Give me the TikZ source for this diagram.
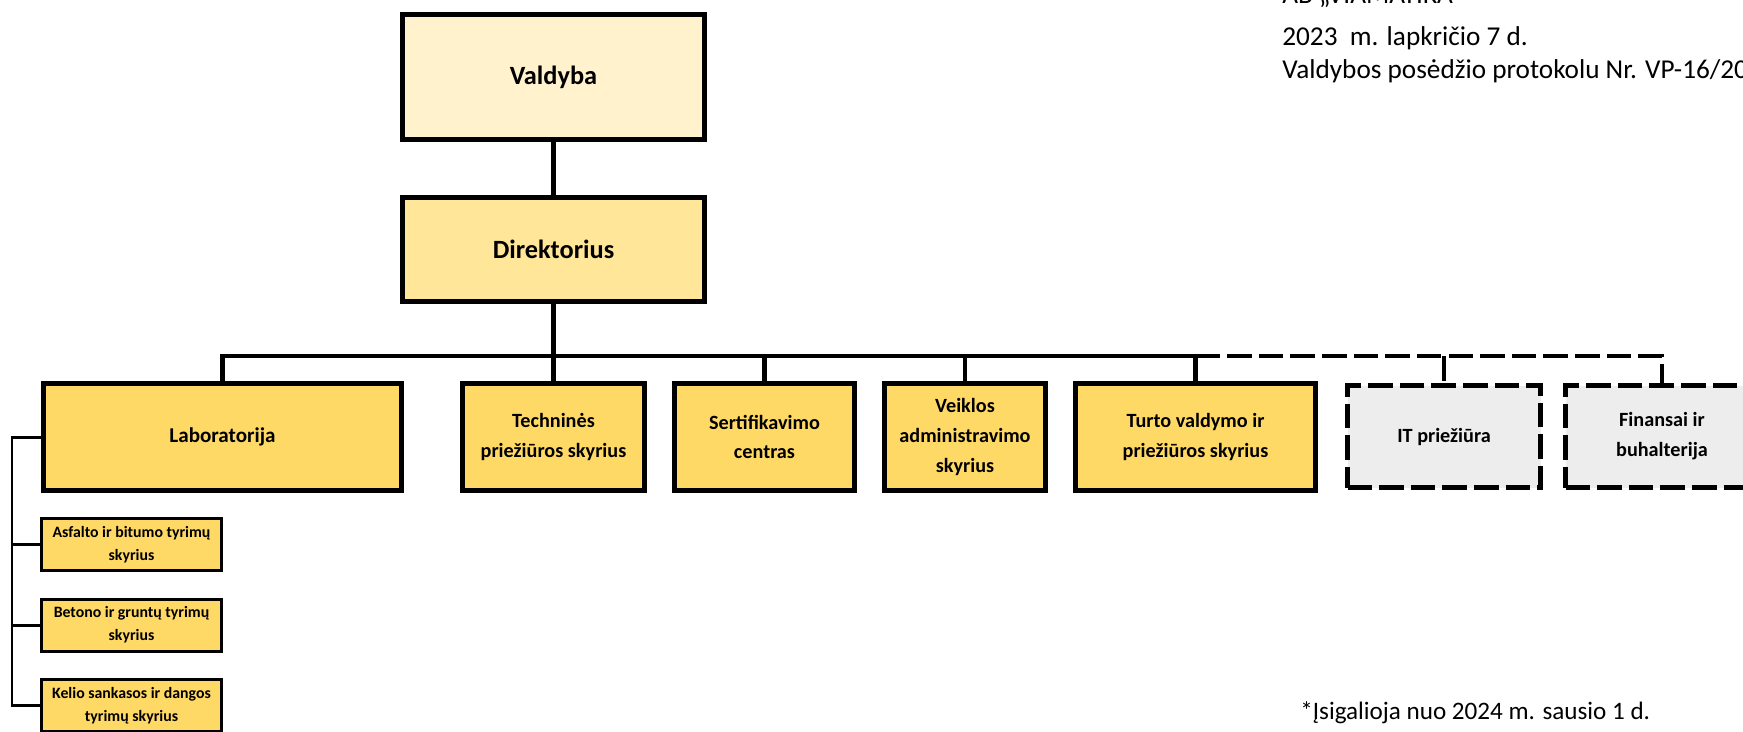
\documentclass[tikz,border=0pt]{standalone}
\usepackage{fontspec}
\setmainfont{Carlito}
\usetikzlibrary{calc}
\definecolor{cream}{HTML}{FFF2CC}
\definecolor{paleGold}{HTML}{FFE699}
\definecolor{gold}{HTML}{FFD966}
\definecolor{paleGray}{HTML}{EDEDED}

\begin{document}
\begin{tikzpicture}[x=0.02cm, y=-0.02cm,
		box/.style={draw, line width=2.8pt, fill=gold, align=center, inner sep=0pt,
			minimum height=2.14cm, font=\fontsize{11.5}{17}\selectfont\bfseries},
		topbox/.style={box, minimum width=6.04cm, font=\fontsize{15}{18}\selectfont\bfseries},
		newbox/.style={box, fill=paleGray, dash pattern=on 14pt off 4pt,
			minimum width=3.86cm, minimum height=2.04cm},
		subbox/.style={draw, line width=1.7pt, fill=gold, align=center, inner sep=0pt,
			minimum width=3.6cm, minimum height=1.04cm, font=\fontsize{9}{13}\selectfont\bfseries},
		link/.style={line width=2.8pt},
		newlink/.style={link, dash pattern=on 14pt off 4pt},
		sublink/.style={line width=1.7pt},
		note/.style={anchor=base west, inner sep=0pt, font=\fontsize{15.5}{18}\selectfont}]
		\useasboundingbox (0,0) rectangle (1743,731);

		% Board and director
		\node[topbox, fill=cream, minimum height=2.5cm] (valdyba) at (553.5,77) {Valdyba};
		\node[topbox, fill=paleGold, minimum height=2.08cm] (direkt) at (553.5,249.5) {Direktorius};
		\draw[link] (valdyba) -- (direkt);

		% Departments
		\node[box, minimum width=7.16cm, font=\fontsize{12}{17}\selectfont\bfseries] (lab) at (222.5,437) {Laboratorija};
		\node[box, minimum width=3.64cm] (tech) at (553.5,437) {Techninės\\priežiūros skyrius};
		\node[box, minimum width=3.6cm] (sert) at (764.5,437) {Sertifikavimo\\centras};
		\node[box, minimum width=3.22cm] (veik) at (965,437) {Veiklos\\administravimo\\skyrius};
		\node[box, minimum width=4.8cm] (turto) at (1195.5,437) {Turto valdymo ir\\priežiūros skyrius};
		\node[newbox] (it) at (1444,436.5) {IT priežiūra};
		\node[newbox] (fin) at (1662,436.5) {Finansai ir\\buhalterija};

		\coordinate (bus) at (553.5,356);
		\draw[link] (direkt) -- (bus);
		\draw[link] (lab.north) |- (turto.north |- bus) -- (turto.north);
		\foreach \n in {tech,sert,veik}
			\draw[link] (\n.north |- bus) -- (\n.north);
		\draw[newlink] (turto.north |- bus) -| (fin.north);
		\draw[newlink] (it.north |- bus) -- (it.north);

		% Laboratory units
		\node[subbox] (asf) at (131.5,544.5) {Asfalto ir bitumo tyrimų\\skyrius};
		\node[subbox] (bet) at (131.5,625) {Betono ir gruntų tyrimų\\skyrius};
		\node[subbox] (kel) at (131.5,705.5) {Kelio sankasos ir dangos\\tyrimų skyrius};
		\coordinate (trunk) at (12,437);
		\draw[sublink] (lab.west) -- (trunk) |- (kel.west);
		\draw[sublink] (trunk |- asf.west) -- (asf.west);
		\draw[sublink] (trunk |- bet.west) -- (bet.west);

		% Approval note and footnote
		\node[note] (hdrA) at (1282,3) {AB „VIAMATIKA“};
		\node[note] (hdrB) at (1282,45) {2023\ \ m. lapkričio 7 d.};
		\node[note] (hdrC) at (1282,78) {Valdybos posėdžio protokolu Nr. VP-16/2023};
		\node[note, font=\fontsize{14.3}{17}\selectfont] (foot) at (1300,719) {*Įsigalioja nuo 2024 m. sausio 1 d.};
	\end{tikzpicture}
\end{document}
